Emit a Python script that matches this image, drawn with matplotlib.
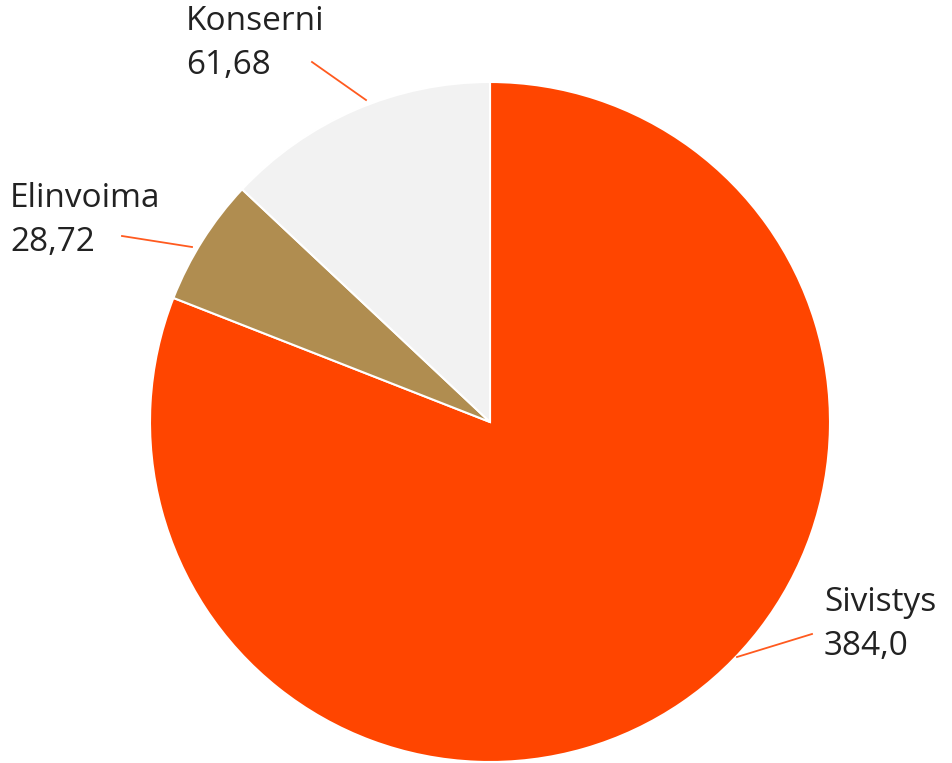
import matplotlib.pyplot as plt

labels = ["Sivistys", "Elinvoima", "Konserni"]
values = [384.0, 28.72, 61.68]
value_text = ["384,0", "28,72", "61,68"]
colors = ["#FF4500", "#B08D50", "#F2F2F2"]

# label text position (figure px, top-left) and leader line (px) per slice
text_pos = [(824, 586), (10, 182), (186, 5)]
leader = [((737, 657), (812, 634)), ((122, 236), (192, 247)), ((312, 62), (366, 100))]

W, H = 952, 763
plt.rcParams['font.family'] = ['Open Sans', 'DejaVu Sans']

fig = plt.figure(figsize=(W / 100, H / 100), dpi=100)
cx, cy, r = 490, 422, 340
ax = fig.add_axes([(cx - r) / W, 1 - (cy + r) / H, 2 * r / W, 2 * r / H])
ax.pie(values, colors=colors, startangle=90, counterclock=False, radius=1,
       wedgeprops=dict(edgecolor="white", linewidth=1.5))
ax.set_xlim(-1, 1)
ax.set_ylim(-1, 1)
ax.set_aspect("equal")
ax.axis("off")

for lab, val, (tx, ty), ((x0, y0), (x1, y1)) in zip(labels, value_text, text_pos, leader):
    fig.text(tx / W, 1 - ty / H, f"{lab}\n{val}", ha="left", va="top",
             fontsize=24, color="#222222", linespacing=1.45)
    fig.add_artist(plt.Line2D([x0 / W, x1 / W], [1 - y0 / H, 1 - y1 / H],
                              transform=fig.transFigure, color="#FF5A1F", lw=1.3))

fig.savefig("out.png", dpi=100)
